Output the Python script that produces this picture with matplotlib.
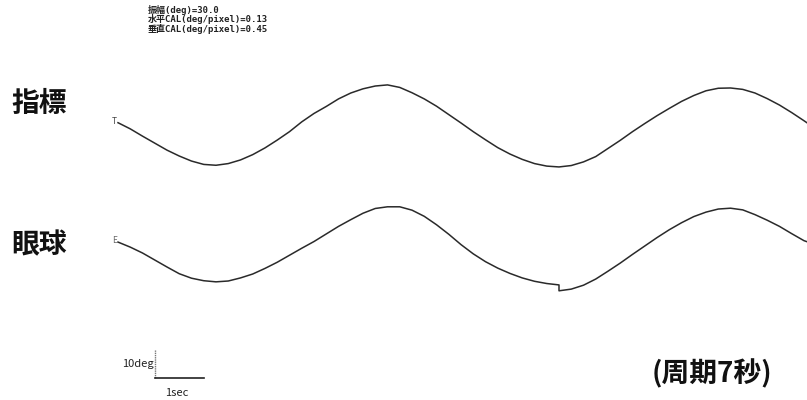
import matplotlib
matplotlib.use("Agg")
import matplotlib.pyplot as plt

plt.rcParams['font.family'] = ['Noto Sans CJK JP', 'DejaVu Sans']

# ---- data (seconds, degrees) ----
target_time = [0.00, 0.25, 0.50, 0.75, 1.00, 1.25, 1.50, 1.75, 2.00, 2.25, 2.50, 2.75,
               3.00, 3.25, 3.50, 3.75, 4.00, 4.25, 4.50, 4.75, 5.00, 5.25, 5.50, 5.75,
               6.00, 6.25, 6.50, 6.75, 7.00, 7.25, 7.50, 7.75, 8.00, 8.25, 8.50, 8.75,
               9.00, 9.25, 9.50, 9.75, 10.00, 10.25, 10.50, 10.75, 11.00, 11.25, 11.50,
               11.75, 12.00, 12.25, 12.50, 12.75, 13.00, 13.25, 13.50, 13.75, 14.00, 14.10]
target_deg = [1.0, -1.2, -3.8, -6.3, -8.8, -10.9, -12.7, -13.9, -14.2, -13.6, -12.3, -10.4,
              -8.0, -5.2, -2.2, 1.3, 4.3, 6.8, 9.5, 11.6, 13.1, 14.1, 14.5, 13.6,
              11.7, 9.5, 6.9, 3.9, 0.9, -2.2, -5.1, -7.9, -10.2, -12.1, -13.6, -14.5,
              -14.8, -14.3, -13.0, -11.1, -8.2, -5.3, -2.2, 0.7, 3.5, 6.1, 8.6,
              10.7, 12.4, 13.3, 13.4, 12.9, 11.6, 9.6, 7.3, 4.6, 1.7, 0.5]

eye_time = [0.00, 0.25, 0.50, 0.75, 1.00, 1.25, 1.50, 1.75, 2.00, 2.25, 2.50, 2.75,
            3.00, 3.25, 3.50, 3.75, 4.00, 4.25, 4.50, 4.75, 5.00, 5.25, 5.50, 5.75,
            6.00, 6.25, 6.50, 6.75, 7.00, 7.25, 7.50, 7.75, 8.00, 8.25, 8.50, 8.75,
            9.00, 9.00, 9.25, 9.50, 9.75, 10.00, 10.25, 10.50, 10.75, 11.00, 11.25, 11.50,
            11.75, 12.00, 12.25, 12.50, 12.75, 13.00, 13.25, 13.50, 13.75, 14.00, 14.10]
eye_deg = [1.4, -0.4, -2.5, -5.0, -7.5, -9.9, -11.5, -12.4, -12.8, -12.5, -11.4, -10.0,
           -8.0, -5.8, -3.3, -0.8, 1.6, 4.3, 7.0, 9.4, 11.7, 13.4, 14.0, 14.0,
           12.8, 10.6, 7.6, 4.2, 0.5, -2.8, -5.6, -7.9, -9.8, -11.4, -12.6, -13.4,
           -13.9, -16.0, -15.4, -14.0, -11.8, -9.0, -6.1, -3.0, 0.0, 3.0, 5.8, 8.3,
           10.5, 12.1, 13.2, 13.5, 12.9, 11.2, 9.2, 7.0, 4.4, 1.9, 1.3]

row_labels = ['指標', '眼球']
info_lines = ['振幅(deg)=30.0', '水平CAL(deg/pixel)=0.13', '垂直CAL(deg/pixel)=0.45']
scale_deg, scale_sec = 10, 1
period_text = '(周期7秒)'

# ---- layout ----
W, H = 807, 400
PX_PER_SEC, PX_PER_DEG, X0 = 49.0, 2.8, 118.0
fig = plt.figure(figsize=(W / 100, H / 100), dpi=100)
ax = fig.add_axes([0, 0, 1, 1])
ax.set_xlim(-X0 / PX_PER_SEC, (W - X0) / PX_PER_SEC)
ax.set_ylim(0, H / PX_PER_DEG)
ax.axis('off')

def ydeg(ypx):
    return (H - ypx) / PX_PER_DEG

target_off = ydeg(125.5)
eye_off = ydeg(246.0)
lc = '#2a2a2a'
ax.plot(target_time, [v + target_off for v in target_deg], color=lc, lw=1.1)
ax.plot(eye_time, [v + eye_off for v in eye_deg], color=lc, lw=1.1)

# start markers
ax.text(target_time[0] - 0.02, target_off + target_deg[0] + 0.5, 'T', fontsize=6,
        ha='right', va='center', color='#444')
ax.text(eye_time[0] - 0.02, eye_off + eye_deg[0] + 0.5, 'E', fontsize=6,
        ha='right', va='center', color='#666')

# row labels
for lab, ypx in zip(row_labels, [104, 245]):
    fig.text(11 / W, 1 - ypx / H, lab, fontsize=20, fontweight='bold', ha='left', va='center',
             color='#111')

# info text
mono = ['DejaVu Sans Mono', 'Noto Sans CJK JP']
for i, line in enumerate(info_lines):
    fig.text(148 / W, 1 - (10 + 9.5 * i) / H, line, fontsize=6.5, ha='left', va='center',
             color='#222', family=mono, fontweight='bold')

# scale bar
sx = (155 - X0) / PX_PER_SEC
sy = ydeg(378)
ax.plot([sx, sx], [sy, sy + scale_deg], color='#777', lw=1.0, ls=(0, (1, 0.6)))
ax.plot([sx, sx + scale_sec], [sy, sy], color='#222', lw=1.2)
ax.text(sx - 0.03, ydeg(364), f'{scale_deg}deg', fontsize=8, ha='right',
        va='center', color='#222')
ax.text(ydeg(0) * 0 + sx + 0.45 * scale_sec, ydeg(393), f'{scale_sec}sec', fontsize=8,
        ha='center', va='center', color='#222')

fig.text(712 / W, 1 - 374 / H, period_text, fontsize=20, fontweight='bold', ha='center',
         va='center', color='#111')

fig.savefig('out.png', dpi=100)
